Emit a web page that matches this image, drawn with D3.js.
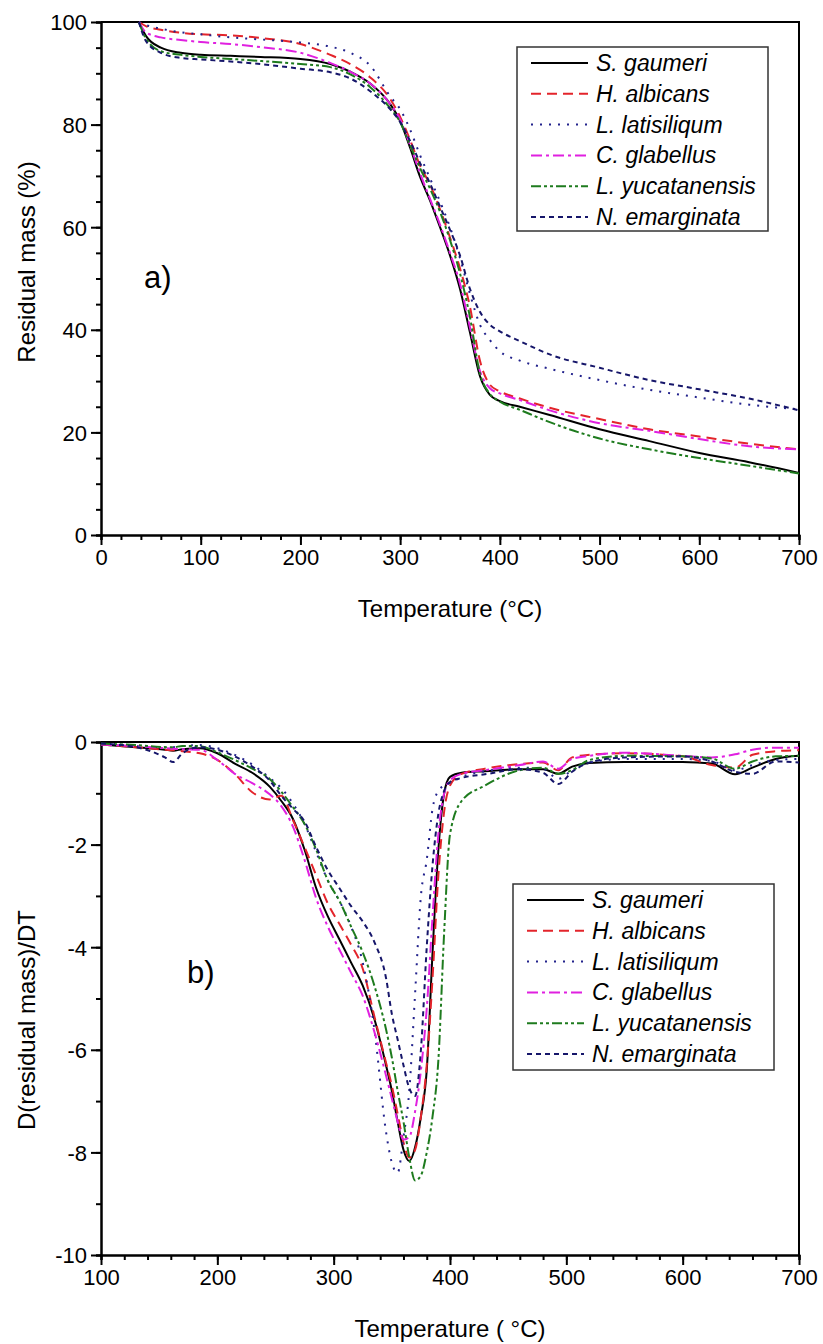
<!DOCTYPE html>
<html>

<head>
	<meta charset='utf-8'>
	<style>
		body { margin: 0; background: #fff; }
		svg { display: block; font-family: 'Liberation Sans', Arial, sans-serif; }
		.domain, .tick line { stroke: #000; stroke-width: 2; }
		.tick text { font-size: 22px; fill: #000; }
	</style>
</head>

<body>
	<svg width="823" height="1344"></svg>
	<script src="https://d3js.org/d3.v7.min.js"></script>
	<script>
		// ---- data ----
		var speciesNames = ['S. gaumeri', 'H. albicans', 'L. latisiliqum', 'C. glabellus', 'L. yucatanensis', 'N. emarginata'];

		// a) residual mass (%) vs temperature
		var tgaTemp = [38, 45, 60, 80, 100, 130, 160, 200, 230, 250, 270, 290, 300, 310, 320, 330, 340, 350, 360, 370, 380, 390, 400, 420, 450, 500, 550, 600, 650, 700];
		var tgaGaumeri = [100, 97.3, 95.0, 94.0, 93.6, 93.4, 93.2, 92.8, 91.8, 90.3, 88.0, 84.0, 80.7, 75.5, 69.8, 65.2, 60.0, 54.5, 48.0, 39.5, 31.0, 27.3, 26.1, 25.0, 23.4, 20.6, 18.3, 16.0, 14.2, 12.1];
		var tgaAlbicans = [100, 99.2, 98.5, 97.9, 97.6, 97.4, 96.9, 95.7, 93.6, 91.8, 89.2, 85.0, 81.5, 77.0, 72.0, 68.3, 63.5, 58.0, 52.0, 44.5, 34.0, 29.3, 28.0, 26.6, 24.8, 22.6, 20.6, 19.2, 17.8, 16.7];
		var tgaLatisiliqum = [100, 99.4, 98.7, 98.0, 97.6, 97.0, 96.6, 96.0, 95.2, 94.0, 91.5, 85.5, 83.0, 79.0, 74.0, 69.5, 65.0, 60.0, 54.0, 47.0, 41.0, 38.0, 35.8, 34.0, 32.4, 30.2, 28.3, 26.8, 25.4, 24.5];
		var tgaGlabellus = [100, 98.0, 97.0, 96.5, 96.1, 95.7, 95.1, 94.0, 92.0, 90.3, 88.0, 84.0, 81.0, 76.0, 70.5, 65.5, 60.5, 55.0, 49.0, 40.5, 32.0, 28.6, 27.6, 26.3, 24.3, 21.8, 20.3, 18.7, 17.3, 16.7];
		var tgaYucatanensis = [100, 96.8, 94.3, 93.6, 93.2, 92.8, 92.4, 91.8, 91.2, 89.8, 87.3, 83.2, 80.5, 76.0, 71.5, 67.5, 63.0, 57.5, 51.0, 42.5, 31.5, 27.5, 26.0, 24.4, 22.0, 18.8, 16.7, 15.0, 13.5, 12.0];
		var tgaEmarginata = [100, 96.3, 94.0, 93.0, 92.7, 92.3, 91.8, 90.9, 90.2, 89.0, 86.5, 83.0, 80.5, 76.8, 72.5, 68.5, 64.0, 59.5, 54.5, 48.0, 43.5, 41.0, 39.7, 37.8, 35.2, 32.6, 30.2, 28.4, 26.6, 24.3];

		// b) derivative of residual mass vs temperature
		var dtgTemp = [100, 130, 155, 162, 170, 185, 200, 215, 230, 245, 255, 265, 275, 285, 295, 305, 315, 325, 335, 345, 350, 355, 360, 365, 370, 375, 380, 385, 390, 395, 400, 410, 430, 460, 480, 493, 505, 520, 550, 600, 625, 645, 660, 680, 700];
		var dtgGaumeri = [-0.05, -0.1, -0.15, -0.17, -0.14, -0.12, -0.22, -0.42, -0.6, -0.87, -1.15, -1.5, -2.1, -2.85, -3.4, -3.85, -4.3, -4.75, -5.4, -6.3, -6.8, -7.4, -7.95, -8.17, -7.9, -7.3, -6.4, -4.1, -2.1, -1.0, -0.68, -0.6, -0.57, -0.53, -0.53, -0.62, -0.48, -0.41, -0.39, -0.39, -0.42, -0.63, -0.5, -0.33, -0.27];
		var dtgAlbicans = [-0.05, -0.1, -0.15, -0.16, -0.18, -0.22, -0.35, -0.62, -0.98, -1.12, -1.05, -1.52, -2.05, -2.6, -3.15, -3.55, -3.95, -4.42, -5.35, -6.25, -6.7, -7.25, -7.8, -8.1, -7.95, -7.3, -6.3, -4.6, -2.6, -1.35, -0.85, -0.62, -0.52, -0.43, -0.4, -0.55, -0.3, -0.25, -0.22, -0.28, -0.45, -0.5, -0.25, -0.18, -0.16];
		var dtgLatisiliqum = [-0.05, -0.08, -0.1, -0.1, -0.08, -0.06, -0.12, -0.25, -0.44, -0.7, -0.9, -1.2, -1.6, -2.15, -2.7, -3.1, -3.6, -4.3, -5.6, -7.6, -8.2, -8.4, -7.7, -6.8, -4.9, -3.0, -2.3, -1.3, -0.95, -0.85, -0.8, -0.68, -0.57, -0.5, -0.52, -0.72, -0.55, -0.4, -0.33, -0.33, -0.37, -0.55, -0.45, -0.35, -0.33];
		var dtgGlabellus = [-0.05, -0.08, -0.12, -0.13, -0.14, -0.15, -0.35, -0.62, -0.8, -1.02, -1.25, -1.65, -2.3, -3.05, -3.6, -4.05, -4.5, -4.95, -5.65, -6.5, -6.95, -7.4, -7.75, -7.7, -7.2, -6.4, -5.2, -3.4, -1.8, -1.0, -0.75, -0.62, -0.55, -0.45, -0.38, -0.52, -0.33, -0.27, -0.21, -0.27, -0.3, -0.24, -0.15, -0.11, -0.11];
		var dtgYucatanensis = [-0.03, -0.06, -0.1, -0.1, -0.08, -0.08, -0.2, -0.35, -0.52, -0.72, -0.97, -1.27, -1.6, -2.1, -2.7, -3.1, -3.6, -4.1, -4.75, -5.6, -6.15, -6.8, -7.4, -8.1, -8.55, -8.45, -8.0, -7.3, -6.2, -3.7, -1.8, -1.15, -0.85, -0.55, -0.5, -0.62, -0.55, -0.35, -0.27, -0.28, -0.32, -0.52, -0.38, -0.28, -0.27];
		var dtgEmarginata = [-0.03, -0.1, -0.3, -0.39, -0.22, -0.1, -0.15, -0.28, -0.48, -0.75, -1.05, -1.3, -1.55, -2.05, -2.5, -2.85, -3.2, -3.5, -3.9, -4.6, -5.3, -5.8, -6.3, -6.75, -6.9, -6.0, -4.0, -2.4, -1.4, -0.95, -0.78, -0.7, -0.63, -0.53, -0.6, -0.82, -0.58, -0.4, -0.3, -0.28, -0.38, -0.58, -0.62, -0.38, -0.4];

		// ---- styles ----
		var lineColors = ['#000000', '#e3242b', '#22228c', '#e020e0', '#1e7b1e', '#16166a'];
		var lineDashes = ['none', '10,6', '2,7', '11,4,3,4', '10,3,3,3,3,3', '5,4'];

		var svg = d3.select('svg');

		function drawPanel(cfg) {
			var x = d3.scaleLinear().domain(cfg.xDomain).range([101, 799]);
			var y = d3.scaleLinear().domain(cfg.yDomain).range([cfg.bottom, cfg.top]);
			var g = svg.append('g');

			// minor ticks
			g.append('g').attr('transform', 'translate(0,' + cfg.bottom + ')')
				.call(d3.axisBottom(x).tickValues(d3.range(cfg.xDomain[0], cfg.xDomain[1] + 1, cfg.xMinor)).tickSize(5).tickFormat(''));
			g.append('g').attr('transform', 'translate(101,0)')
				.call(d3.axisLeft(y).tickValues(d3.range(cfg.yDomain[0], cfg.yDomain[1] + 0.01, cfg.yMinor)).tickSize(5).tickFormat(''));

			// major ticks
			g.append('g').attr('transform', 'translate(0,' + cfg.bottom + ')')
				.call(d3.axisBottom(x).tickValues(d3.range(cfg.xDomain[0], cfg.xDomain[1] + 1, 100)).tickSize(10).tickSizeOuter(0).tickPadding(4).tickFormat(d3.format('d')));
			g.append('g').attr('transform', 'translate(101,0)')
				.call(d3.axisLeft(y).tickValues(d3.range(cfg.yDomain[0], cfg.yDomain[1] + 0.01, cfg.yMajor)).tickSize(10).tickSizeOuter(0).tickPadding(4).tickFormat(d3.format('d')))
				.selectAll('text').attr('dy', '0.36em');
			g.selectAll('.tick text').text(function () { return this.textContent.replace('−', '-'); });

			// top and right frame
			g.append('path')
				.attr('d', 'M101,' + cfg.top + 'H799V' + cfg.bottom)
				.attr('fill', 'none').attr('stroke', '#000').attr('stroke-width', 2);

			var line = d3.line()
				.x(function (d) { return x(d[0]); })
				.y(function (d) { return y(d[1]); })
				.curve(d3.curveMonotoneX);

			cfg.series.forEach(function (vals, i) {
				g.append('path')
					.datum(cfg.temps.map(function (t, k) { return [t, vals[k]]; }))
					.attr('d', line)
					.attr('fill', 'none')
					.attr('stroke', lineColors[i])
					.attr('stroke-width', 2)
					.attr('stroke-dasharray', lineDashes[i]);
			});

			// legend
			var lg = g.append('g').attr('transform', 'translate(' + cfg.legend[0] + ',' + cfg.legend[1] + ')');
			lg.append('rect').attr('width', cfg.legend[2]).attr('height', cfg.legend[3])
				.attr('fill', '#fff').attr('stroke', '#333').attr('stroke-width', 1.5);
			speciesNames.forEach(function (name, i) {
				var yy = 16 + i * 30.8;
				lg.append('line').attr('x1', 14).attr('x2', 71).attr('y1', yy).attr('y2', yy)
					.attr('stroke', lineColors[i]).attr('stroke-width', 2)
					.attr('stroke-dasharray', lineDashes[i]);
				lg.append('text').attr('x', 79).attr('y', yy + 8)
					.attr('font-size', 23).attr('font-style', 'italic').text(name);
			});

			g.append('text').attr('x', 450).attr('y', cfg.bottom + 82)
				.attr('text-anchor', 'middle').attr('font-size', 24).text(cfg.xTitle);
			g.append('text').attr('transform', 'translate(35,' + cfg.yTitlePos + ') rotate(-90)')
				.attr('text-anchor', 'middle').attr('font-size', 24).text(cfg.yTitle);
			g.append('text').attr('x', cfg.tag[0]).attr('y', cfg.tag[1])
				.attr('font-size', 31).text(cfg.tag[2]);
		}

		drawPanel({
			xDomain: [0, 700], yDomain: [0, 100], top: 22, bottom: 535,
			xMinor: 20, yMinor: 5, yMajor: 20,
			temps: tgaTemp,
			series: [tgaGaumeri, tgaAlbicans, tgaLatisiliqum, tgaGlabellus, tgaYucatanensis, tgaEmarginata],
			legend: [517, 47, 251, 184],
			xTitle: 'Temperature (°C)', yTitle: 'Residual mass (%)', yTitlePos: 262,
			tag: [144, 288, 'a)']
		});

		drawPanel({
			xDomain: [100, 700], yDomain: [-10, 0], top: 742, bottom: 1255,
			xMinor: 20, yMinor: 1, yMajor: 2,
			temps: dtgTemp,
			series: [dtgGaumeri, dtgAlbicans, dtgLatisiliqum, dtgGlabellus, dtgYucatanensis, dtgEmarginata],
			legend: [513, 884, 261, 186],
			xTitle: 'Temperature ( °C)', yTitle: 'D(residual mass)/DT', yTitlePos: 1020,
			tag: [187, 983, 'b)']
		});
	</script>
</body>

</html>
